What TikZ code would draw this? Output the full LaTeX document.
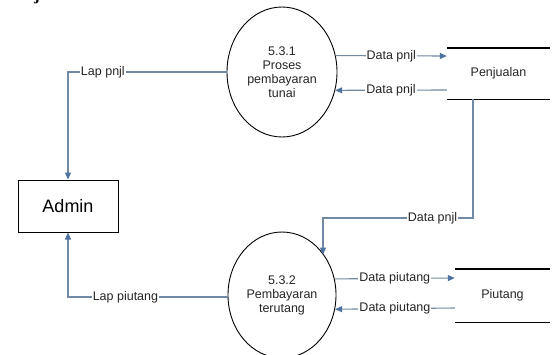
\documentclass[tikz,border=0pt]{standalone}
\usepackage{fontspec}
\setmainfont{Liberation Sans}
\newfontfamily\serifj{Liberation Serif}
\usetikzlibrary{arrows.meta,shapes.geometric}
\definecolor{flowc}{HTML}{7189A4}
\definecolor{tipc}{HTML}{4E73A0}
\begin{document}
\begin{tikzpicture}[x=1pt,y=-1pt,
  proc/.style={draw=black,line width=0.9pt,ellipse,inner sep=0pt,align=center,
    font=\fontsize{12.5}{14}\selectfont,text=black!85},
  entity/.style={draw=black,line width=1pt,rectangle,inner sep=0pt,
    minimum width=100pt,minimum height=52pt,font=\fontsize{18}{20}\selectfont},
  storebox/.style={inner sep=0pt,font=\fontsize{12.5}{14}\selectfont,text=black!85},
  storeline/.style={draw=black,line width=1.4pt},
  flow/.style={draw=flowc,line width=1.1pt,-{Triangle[length=7pt,width=6pt,color=tipc,fill=tipc]}},
  lbl/.style={fill=white,inner sep=1pt,font=\fontsize{12.5}{13.5}\selectfont,text=black!85}]
\useasboundingbox (0,0) rectangle (554,354);
\fill[white] (0,0) rectangle (554,354);

\node[font=\fontsize{16}{16}\selectfont\serifj\bfseries,anchor=base] (frag) at (37,0.5) {j};

\node[proc,minimum width=110pt,minimum height=130pt] (p1) at (282,72)
  {5.3.1\\Proses\\pembayaran\\tunai};
\node[proc,minimum width=108pt,minimum height=126pt] (p2) at (282,295)
  {5.3.2\\Pembayaran\\terutang};
\node[entity] (admin) at (68,206) {Admin};

\node[storebox,minimum width=103pt,minimum height=51pt] (s1) at (498.5,73.5) {Penjualan};
\draw[storeline] (s1.north west) -- (s1.north east);
\draw[storeline] (s1.south west) -- (s1.south east);
\node[storebox,minimum width=95pt,minimum height=53pt] (s2) at (502.5,295.5) {Piutang};
\draw[storeline] (s2.north west) -- (s2.north east);
\draw[storeline] (s2.south west) -- (s2.south east);

\coordinate (y56) at (0,56);
\coordinate (y90) at (0,90);
\coordinate (y278) at (0,278);
\coordinate (y308) at (0,308);
\coordinate (y297) at (0,297);
\coordinate (c1) at (473,218);
\coordinate (c2) at (323,218);

% Lap pnjl
\draw[flow] (p1.west) -| (admin.north) node[lbl,pos=0.39] {Lap pnjl};
% Lap piutang
\draw[flow] (p2.west |- y297) -| (admin.south) node[lbl,pos=0.32] {Lap piutang};
% Data pnjl to Penjualan
\draw[flow] (p1.17) -- (s1.west |- y56) node[lbl,midway] {Data pnjl};
\draw[flow] (s1.west |- y90) -- (p1.-19) node[lbl,midway] {Data pnjl};
% Data pnjl from Penjualan to 5.3.2
\draw[flow] (s1.south -| c1) -- (c1) -- (c2) node[lbl,pos=0.27] {Data pnjl} -- (c2 |- p2.44.5);
% Data piutang
\draw[flow] (p2.17) -- (s2.west |- y278) node[lbl,midway] {Data piutang};
\draw[flow] (s2.west |- y308) -- (p2.-15) node[lbl,midway] {Data piutang};
\end{tikzpicture}
\end{document}
